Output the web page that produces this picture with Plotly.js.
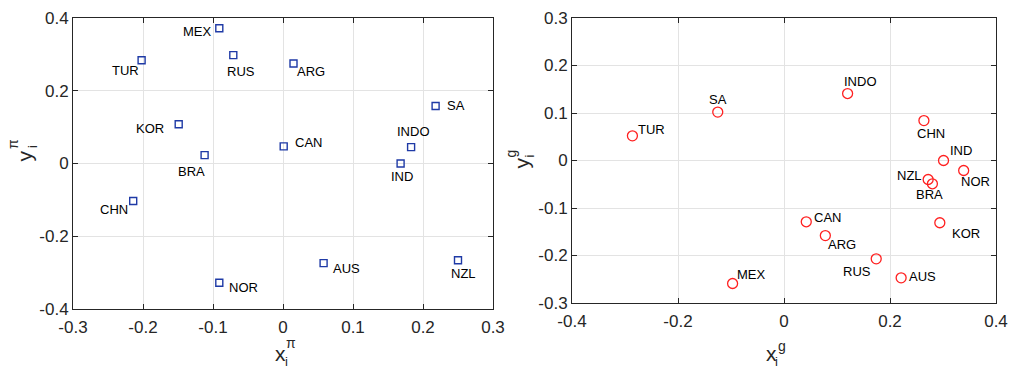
<!DOCTYPE html>
<html>
<head>
<meta charset="utf-8">
<script src="https://cdn.plot.ly/plotly-3.0.1.min.js"></script>
<style>html,body{margin:0;padding:0;background:#fff}#chart{width:1009px;height:369px}</style>
</head>
<body>
<div id="chart"></div>
<script>
// ---- data ----
const countriesPi = ["MEX","RUS","TUR","ARG","SA","KOR","CAN","INDO","BRA","IND","CHN","AUS","NOR","NZL"];
const xPi = [-0.091,-0.071,-0.202,0.015,0.218,-0.149,0.001,0.183,-0.112,0.168,-0.214,0.058,-0.091,0.250];
const yPi = [0.372,0.298,0.284,0.275,0.158,0.108,0.047,0.045,0.023,0.000,-0.103,-0.274,-0.328,-0.266];

const countriesG = ["TUR","SA","INDO","CHN","IND","NOR","NZL","BRA","KOR","CAN","ARG","RUS","AUS","MEX"];
const xG = [-0.286,-0.125,0.120,0.264,0.301,0.339,0.272,0.280,0.294,0.042,0.078,0.174,0.221,-0.097];
const yG = [0.052,0.102,0.141,0.084,0.000,-0.021,-0.040,-0.049,-0.131,-0.129,-0.158,-0.207,-0.247,-0.259];

const xTicksPi = [-0.3,-0.2,-0.1,0,0.1,0.2,0.3];
const xTickTextPi = ["-0.3","-0.2","-0.1","0","0.1","0.2","0.3"];
const yTicksPi = [-0.4,-0.2,0,0.2,0.4];
const yTickTextPi = ["-0.4","-0.2","0","0.2","0.4"];
const xTicksG = [-0.4,-0.2,0,0.2,0.4];
const xTickTextG = ["-0.4","-0.2","0","0.2","0.4"];
const yTicksG = [-0.3,-0.2,-0.1,0,0.1,0.2,0.3];
const yTickTextG = ["-0.3","-0.2","-0.1","0","0.1","0.2","0.3"];

// ---- label offsets (px, +dx right, +dy down) : styling ----
const offPi = [[-22.3,3],[7.5,16.7],[-16.4,10.4],[17.6,7.7],[20.8,-0.7],[-28.7,4.7],[24.8,-4],[2,-15.3],[-12.7,16],[0.9,13.4],[-19.1,9],[22.7,5.7],[23.7,4.6],[5.2,13]];
const offG = [[19,-6.7],[0.3,-12.3],[13.3,-12],[6.8,12.6],[17.9,-9.6],[11.6,10.6],[-18.3,-4],[-3.3,10.3],[25.8,11],[21.4,-4.4],[16.2,8.7],[-19,12.7],[21.5,-1],[18.5,-9.3]];

const W = 1009, H = 369;
const FONT = "Liberation Sans, Arial, Helvetica, sans-serif";
const TXT = "#262626";

const traces = [
  {x: xPi, y: yPi, type: "scatter", mode: "markers", xaxis: "x", yaxis: "y",
   marker: {symbol: "square-open", size: 7, color: "#1f3aa6", line: {width: 1.4, color: "#1f3aa6"}},
   hoverinfo: "skip", showlegend: false},
  {x: xG, y: yG, type: "scatter", mode: "markers", xaxis: "x2", yaxis: "y2",
   marker: {symbol: "circle", size: 10, color: "rgba(255,255,255,0)", line: {width: 1.3, color: "#ff2020"}},
   hoverinfo: "skip", showlegend: false}
];

const annotations = [];
countriesPi.forEach((c, i) => annotations.push({
  xref: "x", yref: "y", x: xPi[i], y: yPi[i], text: c, showarrow: false,
  xanchor: "center", yanchor: "middle", xshift: offPi[i][0], yshift: -offPi[i][1],
  font: {family: FONT, size: 13, color: "#000"}
}));
countriesG.forEach((c, i) => annotations.push({
  xref: "x2", yref: "y2", x: xG[i], y: yG[i], text: c, showarrow: false,
  xanchor: "center", yanchor: "middle", xshift: offG[i][0], yshift: -offG[i][1],
  font: {family: FONT, size: 13, color: "#000"}
}));

function lab(txt, px, py, size, angle) {
  annotations.push({xref: "paper", yref: "paper", x: px / W, y: 1 - py / H, text: txt,
    showarrow: false, xanchor: "center", yanchor: "middle", textangle: angle || 0, borderpad: 0,
    font: {family: FONT, size: size, color: TXT}});
}
// axis titles x_i^pi, y_i^pi, x_i^g, y_i^g
lab("x", 280, 353, 21); lab("i", 286, 361.5, 13); lab("π", 291, 343, 14);
lab("x", 771, 353, 21); lab("i", 776.5, 361.5, 13); lab("g", 781.5, 346, 14);
lab("y", 23.5, 156, 21, -90); lab("i", 32, 147, 13, -90); lab("π", 13, 144, 14, -90);
lab("y", 520.5, 163, 21, -90); lab("i", 528.5, 156, 13, -90); lab("g", 510.5, 154, 14, -90);

function axis(extra) {
  return Object.assign({
    showline: true, linecolor: TXT, linewidth: 1, mirror: "ticks",
    ticks: "inside", ticklen: 5, tickwidth: 1, tickcolor: TXT,
    showgrid: true, gridcolor: "#e3e3e3", gridwidth: 1, zeroline: false,
    tickmode: "array", tickfont: {family: FONT, size: 17, color: TXT},
    automargin: false, fixedrange: true
  }, extra);
}

const layout = {
  width: W, height: H, margin: {l: 0, r: 0, t: 0, b: 0},
  paper_bgcolor: "#fff", plot_bgcolor: "#fff", showlegend: false,
  xaxis: axis({domain: [73 / W, 493 / W], range: [-0.3, 0.3], anchor: "y", tickvals: xTicksPi, ticktext: xTickTextPi, ticklabelstandoff: 3}),
  yaxis: axis({domain: [(H - 309) / H, (H - 18) / H], range: [-0.4, 0.4], anchor: "x", tickvals: yTicksPi, ticktext: yTickTextPi}),
  xaxis2: axis({domain: [572 / W, 996 / W], range: [-0.4, 0.4], anchor: "y2", tickvals: xTicksG, ticktext: xTickTextG, ticklabelstandoff: 3}),
  yaxis2: axis({domain: [(H - 303) / H, (H - 18) / H], range: [-0.3, 0.3], anchor: "x2", tickvals: yTicksG, ticktext: yTickTextG}),
  annotations: annotations
};

Plotly.newPlot("chart", traces, layout, {staticPlot: true, displayModeBar: false});
</script>
</body>
</html>
